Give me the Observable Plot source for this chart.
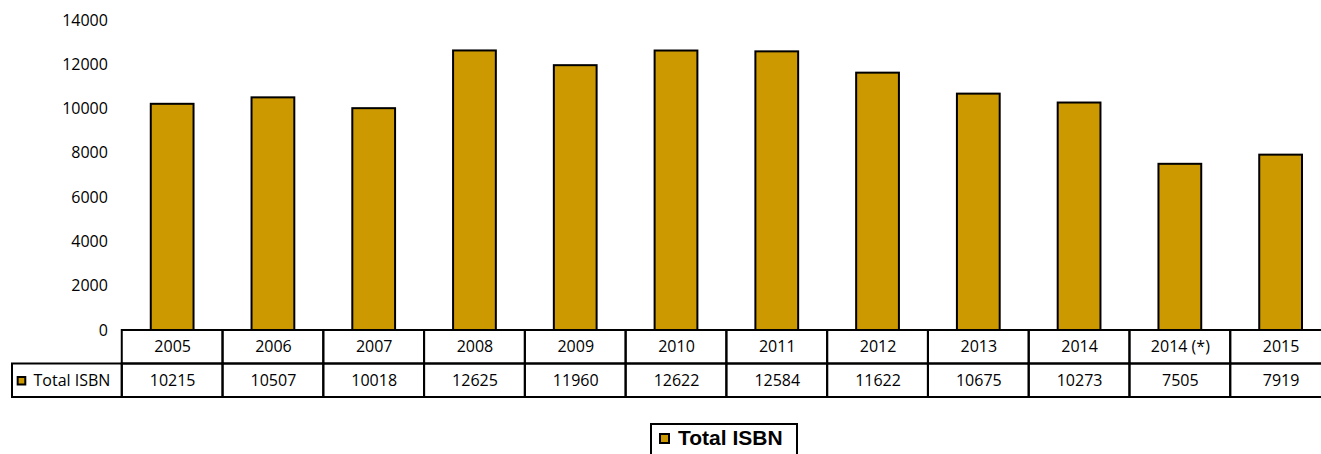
<!DOCTYPE html>
<html><head><meta charset="utf-8">
<script src="https://cdn.jsdelivr.net/npm/d3@7"></script>
<script src="https://cdn.jsdelivr.net/npm/@observablehq/plot@0.6"></script>
<style>
body{margin:0;overflow:hidden;background:#fff;position:relative;width:1321px;height:454px}
#legend{position:absolute;left:650px;top:423px;width:144px;height:40px;border:2px solid #000;box-sizing:content-box;font-family:"Liberation Sans",Arial,sans-serif;font-weight:bold;font-size:21px;color:#000}
#legend .sw{position:absolute;left:7px;top:8px;width:7px;height:7px;background:#CC9900;border:2px solid #000}
#legend .lb{position:absolute;left:26px;top:2px;line-height:22px;white-space:nowrap}
</style>
</head><body><div id="chart"></div>
<div id="legend"><span class="sw"></span><span class="lb">Total ISBN</span></div>
<script>
const years = ["2005","2006","2007","2008","2009","2010","2011","2012","2013","2014","2014 (*)","2015"];
const totalISBN = [10215,10507,10018,12625,11960,12622,12584,11622,10675,10273,7505,7919];
const yTicks = [0,2000,4000,6000,8000,10000,12000,14000];
const seriesName = "Total ISBN";

const HDR = "__header";
const data = years.map((y, i) => ({year: y, value: totalISBN[i]}));
const rowSpan = 1513; // table row height in y-units (table sits below 0)
const gold = "#CC9900";
const font = "'Open Sans', sans-serif";
const fs = 16;

const chart = Plot.plot({
  width: 1331,
  height: 400,
  marginTop: 20,
  marginBottom: 3,
  marginLeft: 21,
  marginRight: 0,
  style: {maxWidth: "none", fontFamily: font, fontSize: fs + "px", color: "#000", background: "#fff"},
  x: {type: "band", domain: [HDR, ...years], padding: 0, round: false, axis: null},
  y: {domain: [-2 * rowSpan, 14000], axis: null},
  marks: [
    Plot.barY(data, {x: "year", y: "value", fill: gold, stroke: "#000", strokeWidth: 2, insetLeft: 29, insetRight: 29}),
    // data table: year row
    Plot.barY(years, {x: d => d, y1: 0, y2: -rowSpan, fill: "none", stroke: "#000", strokeWidth: 2}),
    Plot.text(years, {x: d => d, y: -rowSpan / 2, text: d => d, fill: "#000", fontSize: fs}),
    // data table: value row
    Plot.barY(years, {x: d => d, y1: -rowSpan, y2: -2 * rowSpan, fill: "none", stroke: "#000", strokeWidth: 2}),
    Plot.barY([HDR], {x: d => d, y1: -rowSpan, y2: -2 * rowSpan, fill: "none", stroke: "#000", strokeWidth: 2, insetLeft: -9}),
    Plot.text(data, {x: "year", y: -1.5 * rowSpan, text: d => String(d.value), fill: "#000", fontSize: fs}),
    Plot.dot([HDR], {x: d => d, y: -1.5 * rowSpan, symbol: "square", r: 4.3, fill: gold, stroke: "#000", strokeWidth: 2, dx: -50.4}),
    Plot.text([HDR], {x: d => d, y: -1.5 * rowSpan, text: () => seriesName, textAnchor: "start", dx: -38.4, fill: "#000", fontSize: fs}),
    // y tick labels
    Plot.text(yTicks, {x: () => HDR, y: d => d, text: d => String(d), textAnchor: "end", dx: 36, fill: "#000", fontSize: fs})
  ]
});
document.getElementById("chart").appendChild(chart);
</script>
</body></html>
